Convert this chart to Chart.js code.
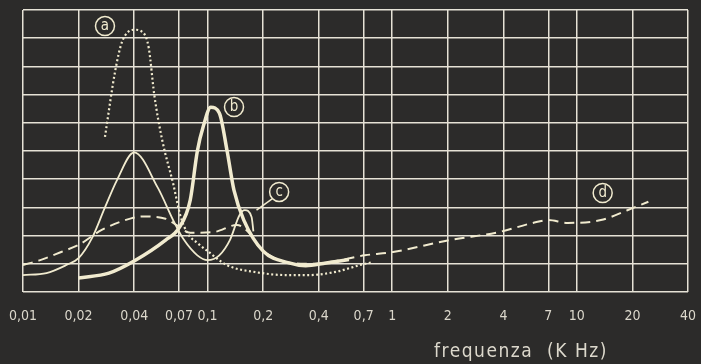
<!DOCTYPE html>
<html>
<head>
<meta charset="utf-8">
<script src="https://cdn.jsdelivr.net/npm/chart.js@4.4.1/dist/chart.umd.min.js"></script>
<style>
  body { margin: 0; background: #2c2b2a; }
  #wrap { width: 701px; height: 364px; }
</style>
</head>
<body>
<div id="wrap"><canvas id="myChart" width="701" height="364"></canvas></div>
<script>
// x axis (kHz, log) ticks and their printed labels
var xTicks = [0.01, 0.02, 0.04, 0.07, 0.1, 0.2, 0.4, 0.7, 1, 2, 4, 7, 10, 20, 40];
var xTickLabels = ['0,01', '0,02', '0,04', '0,07', '0,1', '0,2', '0,4', '0,7', '1', '2', '4', '7', '10', '20', '40'];

// curve a (dotted)
var aFreq = [0.0278, 0.0315, 0.0344, 0.04, 0.0447, 0.048, 0.0514, 0.0567, 0.0653, 0.0709, 0.0775, 0.088, 0.1, 0.1275, 0.184, 0.266, 0.353, 0.499, 0.673, 0.77];
var aValues = [5.5, 7.8, 8.87, 9.3, 9.2, 8.65, 7.0, 5.4, 3.8, 2.75, 2.1, 1.74, 1.45, 0.95, 0.7, 0.6, 0.6, 0.72, 0.96, 1.05];

// curve b (thick)
var bFreq = [0.02, 0.0292, 0.04, 0.0592, 0.07, 0.0805, 0.088, 0.095, 0.104, 0.1157, 0.1275, 0.139, 0.157, 0.2, 0.276, 0.34, 0.438, 0.583];
var bValues = [0.5, 0.67, 1.1, 1.84, 2.27, 3.26, 5.0, 5.9, 6.55, 6.35, 5.0, 3.6, 2.55, 1.45, 1.03, 0.93, 1.03, 1.15];

// curve c (thin)
var cFreq = [0.01, 0.0134, 0.0172, 0.02, 0.0236, 0.0278, 0.0323, 0.04, 0.0537, 0.0662, 0.0746, 0.088, 0.1, 0.1157, 0.132, 0.149, 0.159, 0.173, 0.177];
var cValues = [0.6, 0.67, 0.96, 1.2, 1.9, 3.0, 3.97, 4.95, 3.7, 2.45, 1.84, 1.3, 1.13, 1.3, 1.84, 2.73, 2.9, 2.66, 2.15];

// curve d (dashed)
var dFreq = [0.01, 0.0124, 0.0161, 0.02, 0.0267, 0.0389, 0.0447, 0.0592, 0.0676, 0.0805, 0.1089, 0.144, 0.173, 0.19, 0.226, 0.266, 0.34, 0.456, 0.71, 1.01, 2.05, 3.81, 5.78, 7, 8.92, 13.5, 18.8, 24.4];
var dValues = [0.96, 1.13, 1.42, 1.67, 2.2, 2.62, 2.68, 2.6, 2.38, 2.1, 2.13, 2.38, 2.0, 1.6, 1.24, 1.06, 1.0, 1.06, 1.3, 1.42, 1.84, 2.13, 2.45, 2.55, 2.45, 2.55, 2.9, 3.2];

// circled letters: name, freq, value
var tagNames = ['a', 'b', 'c', 'd'];
var tagFreq = [0.0278, 0.139, 0.244, 13.8];
var tagValues = [9.43, 6.56, 3.55, 3.51];

var bg = '#2c2b2a';
var ink = '#f1ebcf';
var gridInk = '#e6e2d6';
var fontFam = '"DejaVu Sans Condensed", "Liberation Sans", Roboto, sans-serif';

function pts(fx, vy) {
    var out = [];
    for (var i = 0; i < fx.length; i++) out.push({x: fx[i], y: vy[i]});
    return out;
}

var backdrop = {
    id: 'backdrop',
    beforeDraw: function (chart) {
        var ctx = chart.ctx;
        ctx.save();
        ctx.fillStyle = bg;
        ctx.fillRect(0, 0, chart.width, chart.height);
        ctx.restore();
    }
};

var tags = {
    id: 'tags',
    afterDraw: function (chart) {
        var ctx = chart.ctx, sx = chart.scales.x, sy = chart.scales.y;
        ctx.save();
        ctx.strokeStyle = ink;
        ctx.fillStyle = ink;
        ctx.lineWidth = 1.5;
        // leader line from c to its curve
        var cx = sx.getPixelForValue(tagFreq[2]), cy = sy.getPixelForValue(tagValues[2]);
        ctx.beginPath();
        ctx.moveTo(cx - 7, cy + 7);
        ctx.lineTo(sx.getPixelForValue(0.184), sy.getPixelForValue(2.9));
        ctx.stroke();
        for (var i = 0; i < tagNames.length; i++) {
            var x = sx.getPixelForValue(tagFreq[i]), y = sy.getPixelForValue(tagValues[i]);
            ctx.fillStyle = bg;
            ctx.beginPath();
            ctx.arc(x, y, 9.5, 0, Math.PI * 2);
            ctx.fill();
            ctx.stroke();
            ctx.fillStyle = ink;
            ctx.font = '15px ' + fontFam;
            ctx.textAlign = 'center';
            ctx.textBaseline = 'middle';
            ctx.fillText(tagNames[i], x, y);
        }
        // axis title
        ctx.font = '19px ' + fontFam;
        ctx.letterSpacing = '1.5px';
        ctx.fillStyle = '#dcd8cc';
        ctx.textBaseline = 'alphabetic';
        ctx.fillText('frequenza  (K Hz)', 521, 357);
        ctx.restore();
    }
};

var myChart = new Chart(document.getElementById('myChart').getContext('2d'), {
    type: 'line',
    data: {
        datasets: [
            {label: 'a', data: pts(aFreq, aValues), borderColor: ink, borderWidth: 2.2, borderDash: [2, 2.5], pointRadius: 0, cubicInterpolationMode: 'monotone'},
            {label: 'b', data: pts(bFreq, bValues), borderColor: ink, borderWidth: 3.5, pointRadius: 0, cubicInterpolationMode: 'monotone'},
            {label: 'c', data: pts(cFreq, cValues), borderColor: ink, borderWidth: 1.8, pointRadius: 0, cubicInterpolationMode: 'monotone'},
            {label: 'd', data: pts(dFreq, dValues), borderColor: ink, borderWidth: 2, borderDash: [10, 6], pointRadius: 0, cubicInterpolationMode: 'monotone'}
        ]
    },
    options: {
        responsive: false,
        animation: false,
        layout: {padding: {left: 23, right: 13, top: 10, bottom: 0}},
        plugins: {legend: {display: false}, tooltip: {enabled: false}},
        scales: {
            x: {
                type: 'logarithmic',
                min: 0.01,
                max: 40,
                afterBuildTicks: function (scale) {
                    scale.ticks = xTicks.map(function (v) { return {value: v}; });
                },
                afterFit: function (scale) {
                    scale.height = 72;
                    // labels may overhang, the layout padding already leaves room
                    scale.paddingLeft = 0;
                    scale.paddingRight = 0;
                },
                grid: {color: gridInk, lineWidth: 1.5, drawTicks: false},
                border: {display: false},
                ticks: {
                    autoSkip: false,
                    maxRotation: 0,
                    padding: 16,
                    color: '#dcd8cc',
                    font: {family: fontFam, size: 14},
                    callback: function (v) {
                        var i = xTicks.indexOf(v);
                        return i >= 0 ? xTickLabels[i] : '';
                    }
                }
            },
            y: {
                min: 0,
                max: 10,
                afterFit: function (scale) { scale.width = 0; },
                grid: {color: gridInk, lineWidth: 1.5, drawTicks: false},
                border: {display: false},
                ticks: {display: false, stepSize: 1}
            }
        }
    },
    plugins: [backdrop, tags]
});
</script>
</body>
</html>
